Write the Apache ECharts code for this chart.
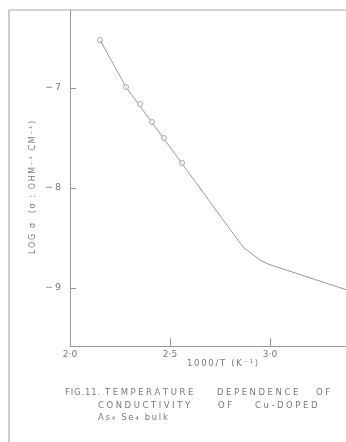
<!DOCTYPE html>
<html>
<head>
<meta charset="utf-8">
<script src="https://cdn.jsdelivr.net/npm/echarts@6/dist/echarts.min.js"></script>
<style>
  html, body { margin: 0; padding: 0; background: #fff; }
  #chart { width: 346px; height: 442px; }
</style>
</head>
<body>
<div id="chart"></div>
<script>
// fitted curve, log sigma vs 1000/T
const curveX = [2.15, 2.28, 2.865, 2.91, 2.95, 2.99, 3.035, 3.385]
const curveY = [-6.52, -6.99, -8.59, -8.66, -8.72, -8.76, -8.79, -9.02]
// measured points (open circles)
const pointX = [2.15, 2.28, 2.35, 2.41, 2.47, 2.56]
const pointY = [-6.52, -6.99, -7.16, -7.34, -7.50, -7.75]
const xTickLabels = [2.0, 2.5, 3.0]
const xTicks = [2.5, 3.0]
const yTicks = [-7, -8, -9]

const ink = '#999'
const txt = '#7a7a7a'
const font = 'DejaVu Sans'

// the typewritten caption has wide letter spacing
const spaced = (s, gap) => s.split('').join(gap || '\u2009\u200a')
const word = (text, left, top, size, gap) => ({
  type: 'text', left, top,
  style: { text: spaced(text, gap), fill: txt, fontSize: size || 8.5, fontFamily: font }
})

const chart = echarts.init(document.getElementById('chart'))
chart.setOption({
  animation: false,
  backgroundColor: '#fff',
  textStyle: { fontFamily: font, color: txt },
  grid: { left: 70, top: 10, right: 0, bottom: 96 },
  xAxis: {
    type: 'value',
    min: 2.0,
    max: 3.38,
    axisLine: { lineStyle: { color: ink, width: 1 } },
    axisTick: { inside: true, length: 8, customValues: xTicks, lineStyle: { color: ink } },
    axisLabel: {
      customValues: xTickLabels,
      color: txt,
      fontSize: 9,
      margin: 4,
      formatter: v => v.toFixed(1).replace('.', '·')
    },
    splitLine: { show: false }
  },
  yAxis: {
    type: 'value',
    min: -9.58,
    max: -6.22,
    axisLine: { show: true, lineStyle: { color: ink, width: 1 } },
    axisTick: { inside: true, length: 6, customValues: yTicks, lineStyle: { color: ink } },
    axisLabel: {
      customValues: yTicks,
      color: txt,
      fontSize: 9.5,
      margin: 9,
      formatter: v => '−\u2009' + Math.abs(v)
    },
    splitLine: { show: false }
  },
  series: [
    {
      type: 'line',
      data: curveX.map((x, i) => [x, curveY[i]]),
      showSymbol: false,
      z: 2,
      lineStyle: { color: '#999', width: 1 }
    },
    {
      type: 'scatter',
      data: pointX.map((x, i) => [x, pointY[i]]),
      symbol: 'circle',
      symbolSize: 5,
      z: 3,
      itemStyle: { color: 'rgba(255,255,255,0.6)', borderColor: '#aaa', borderWidth: 1, opacity: 1 }
    }
  ],
  graphic: [
    // page border from the scan
    { type: 'line', shape: { x1: 9, y1: 10, x2: 9, y2: 442 }, style: { stroke: '#999', lineWidth: 1 } },
    { type: 'line', shape: { x1: 9, y1: 10, x2: 346, y2: 10 }, style: { stroke: '#aaa', lineWidth: 1 } },
    {
      type: 'text', left: 29, top: 121, rotation: Math.PI / 2,
      style: { text: spaced('LOG σ  (σ : OHM⁻¹ CM⁻¹)', '\u2009'), fill: txt, fontSize: 8, fontFamily: font }
    },
    word('1000/T (K⁻¹)', 187, 359, 8.5, '\u2009'),
    word('FIG.11.', 65, 388, 8.5, '\u200a'),
    word('TEMPERATURE', 105, 388),
    word('DEPENDENCE', 217, 388),
    word('OF', 316, 388),
    word('CONDUCTIVITY', 98, 401),
    word('OF', 218, 401),
    word('Cu-DOPED', 255, 401),
    word('As₄ Se₄ bulk', 98, 413, 8.5, '\u2009')
  ]
})
</script>
</body>
</html>
